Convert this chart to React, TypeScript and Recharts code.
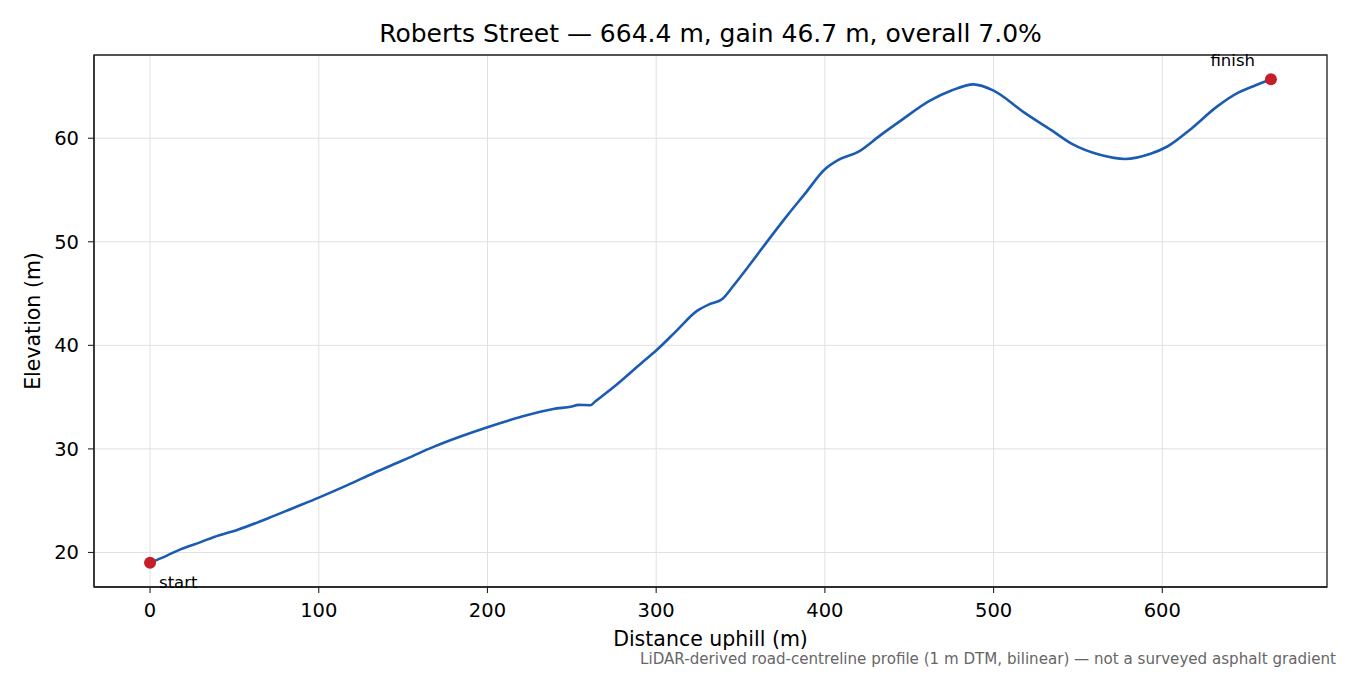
import React from 'react';
import {
  LineChart,
  Line,
  XAxis,
  YAxis,
  CartesianGrid,
  ReferenceDot,
  ReferenceArea,
} from 'recharts';

// ---- data ----
const distance = [
  0, 10, 18, 30, 38, 52, 70, 85, 100, 117, 133, 150, 168, 184, 200, 220, 239, 250,
  254, 261, 264, 275, 292, 300, 312, 324, 332, 339, 346, 356, 368, 378, 388, 400,
  408, 420, 433, 445, 462, 475, 488, 500, 518, 534, 547, 563, 578, 593, 603, 617,
  632, 645, 652, 664.4,
];
const elevation = [
  19.0, 19.7, 20.3, 21.0, 21.5, 22.2, 23.3, 24.3, 25.3, 26.5, 27.7, 28.9, 30.2, 31.2,
  32.1, 33.1, 33.85, 34.1, 34.25, 34.22, 34.6, 36.0, 38.4, 39.5, 41.4, 43.3, 44.0,
  44.45, 45.8, 47.9, 50.5, 52.6, 54.6, 57.0, 57.9, 58.7, 60.3, 61.7, 63.6, 64.6, 65.2,
  64.6, 62.5, 60.8, 59.4, 58.4, 58.0, 58.5, 59.2, 60.9, 63.0, 64.4, 64.9, 65.7,
];
const xTicks = [0, 100, 200, 300, 400, 500, 600];
const yTicks = [20, 30, 40, 50, 60];
const startPoint = { d: 0, e: 19.0, label: 'start' };
const finishPoint = { d: 664.4, e: 65.7, label: 'finish' };
const titleText = 'Roberts Street — 664.4 m, gain 46.7 m, overall 7.0%';
const xLabel = 'Distance uphill (m)';
const yLabel = 'Elevation (m)';
const footnote =
  'LiDAR-derived road-centreline profile (1 m DTM, bilinear) — not a surveyed asphalt gradient';

const xDomain: [number, number] = [-33.22, 697.62];
const yDomain: [number, number] = [16.665, 68.035];

const data = distance.map((d, i) => ({ d, e: elevation[i] }));

const FONT = '"DejaVu Sans", sans-serif';
const LINE = '#1b5cb2';
const RED = '#c41e2a';

export default function App() {
  return (
    <div
      style={{
        position: 'absolute',
        left: 0,
        top: 0,
        width: 1350,
        height: 675,
        background: '#fff',
        fontFamily: FONT,
      }}
    >
      <LineChart
        width={1350}
        height={675}
        data={data}
        margin={{ top: 55, right: 23, bottom: 28, left: 14 }}
      >
        <CartesianGrid stroke="#e0e0e0" strokeWidth={1} />
        <XAxis
          dataKey="d"
          type="number"
          domain={xDomain}
          ticks={xTicks}
          allowDataOverflow
          height={60}
          tickSize={6}
          tickMargin={10}
          axisLine={{ stroke: '#222', strokeWidth: 1.3 }}
          tickLine={{ stroke: '#222', strokeWidth: 1.1 }}
          tick={{ fill: '#000', fontSize: 19.5, fontFamily: FONT }}
          label={{
            content: (props: any) => {
              const vb = props.viewBox || {};
              return (
                <text
                  x={vb.x + vb.width / 2}
                  y={vb.y + 59}
                  textAnchor="middle"
                  fontSize={20.5}
                  fontFamily={FONT}
                  fill="#000"
                >
                  {xLabel}
                </text>
              );
            },
          }}
        />
        <YAxis
          dataKey="e"
          type="number"
          domain={yDomain}
          ticks={yTicks}
          allowDataOverflow
          width={80}
          tickSize={6}
          tickMargin={9}
          axisLine={{ stroke: '#222', strokeWidth: 1.3 }}
          tickLine={{ stroke: '#222', strokeWidth: 1.1 }}
          tick={{ fill: '#000', fontSize: 19.5, fontFamily: FONT }}
          label={{
            content: (props: any) => {
              const vb = props.viewBox || {};
              const cx = vb.x + 19;
              const cy = vb.y + vb.height / 2;
              return (
                <text
                  x={cx}
                  y={cy}
                  transform={`rotate(-90, ${cx}, ${cy})`}
                  textAnchor="middle"
                  dominantBaseline="central"
                  fontSize={20.5}
                  fontFamily={FONT}
                  fill="#000"
                >
                  {yLabel}
                </text>
              );
            },
          }}
        />
        <ReferenceArea
          x1={xDomain[0]}
          x2={xDomain[1]}
          y1={yDomain[0]}
          y2={yDomain[1]}
          fill="none"
          fillOpacity={0}
          stroke="#222"
          strokeWidth={1.3}
          ifOverflow="visible"
        />
        <Line
          type="monotone"
          dataKey="e"
          stroke={LINE}
          strokeWidth={2.6}
          dot={false}
          activeDot={false}
          isAnimationActive={false}
        />
        <ReferenceDot
          x={startPoint.d}
          y={startPoint.e}
          ifOverflow="visible"
          shape={(p: any) => (
            <g>
              <circle cx={p.cx} cy={p.cy} r={6} fill={RED} />
              <text
                x={p.cx + 9}
                y={p.cy + 25}
                fontSize={16.5}
                fontFamily={FONT}
                fill="#000"
              >
                {startPoint.label}
              </text>
            </g>
          )}
        />
        <ReferenceDot
          x={finishPoint.d}
          y={finishPoint.e}
          ifOverflow="visible"
          shape={(p: any) => (
            <g>
              <circle cx={p.cx} cy={p.cy} r={6} fill={RED} />
              <text
                x={p.cx - 16}
                y={p.cy - 13}
                textAnchor="end"
                fontSize={16.5}
                fontFamily={FONT}
                fill="#000"
              >
                {finishPoint.label}
              </text>
            </g>
          )}
        />
      </LineChart>
      <svg
        width={1350}
        height={675}
        style={{ position: 'absolute', left: 0, top: 0, pointerEvents: 'none' }}
      >
        <text
          x={710.5}
          y={41.7}
          textAnchor="middle"
          fontSize={25}
          fontFamily={FONT}
          fill="#000"
        >
          {titleText}
        </text>
        <text
          x={1336}
          y={664}
          textAnchor="end"
          fontSize={15.1}
          fontFamily={FONT}
          fill="#666"
        >
          {footnote}
        </text>
      </svg>
    </div>
  );
}
